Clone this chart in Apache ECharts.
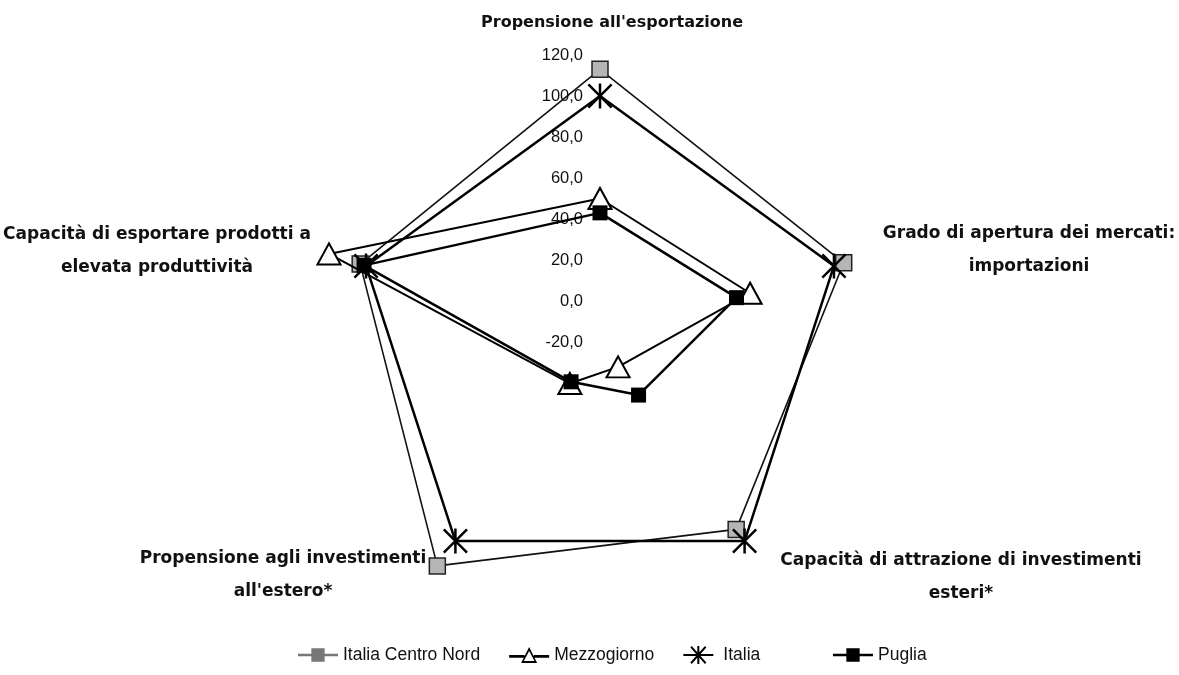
<!DOCTYPE html>
<html>
<head>
<meta charset="utf-8">
<script src="https://cdn.jsdelivr.net/npm/echarts@6/dist/echarts.min.js"></script>
<style>html,body{margin:0;padding:0;background:#fff;}#c{width:1179px;height:675px;}</style>
</head>
<body>
<div id="c"></div>
<script>
// Indicators in ECharts order (top, then counter-clockwise)
var indicatorNames = [
  "Propensione all'esportazione",
  "Capacità di esportare prodotti a\nelevata produttività",
  "Propensione agli investimenti\nall'estero*",
  "Capacità di attrazione di investimenti\nesteri*",
  "Grado di apertura dei mercati:\nimportazioni"
];
var seriesNames = ["Italia Centro Nord", "Mezzogiorno", "Italia", "Puglia"];
var centroNord = [113, 103, 115, 93, 105];
var mezzogiorno = [50, 119, 5, -5, 57];
var italia = [100, 100, 100, 100, 100];
var puglia = [43, 101, 4, 12, 50];
var axisMin = -20, axisMax = 120, axisStep = 20;
var tickValues = [-20, 0, 20, 40, 60, 80, 100, 120];

var CX = 600, CY = 342, R = 287;
var asterisk = 'path://M9,0H11V20H9Z M0,1.4L1.4,0L20,18.6L18.6,20Z M18.6,0L20,1.4L1.4,20L0,18.6Z';
var legIcons = [
  'path://M0,9H30V11H0Z M10,5H20V15H10Z',
  'path://M0,9H11.5V11H0Z M18.5,9H30V11H18.5Z M15,3L21,15L9,15Z M15,6L11,13.5L19,13.5Z',
  'path://M0,9H30V11H0Z M14,1H16V19H14Z M7,2.4L8.4,1L23,17.6L21.6,19Z M21.6,1L23,2.4L8.4,19L7,17.6Z',
  'path://M0,9H30V11H0Z M10,5H20V15H10Z'
];
var legColors = ['#777', '#000', '#000', '#000'];

var nameFont = {fontFamily: 'DejaVu Sans', fontSize: 17, fontWeight: 'bold', fill: '#111', lineHeight: 33, align: 'center', verticalAlign: 'middle'};
var namePos = [[612, 23], [157, 251], [283, 575], [961, 577], [1029, 250]];
var graphics = indicatorNames.map(function (n, i) {
  var st = Object.assign({text: n}, nameFont);
  if (i === 0) st.fontSize = 16;
  return {type: 'text', x: namePos[i][0], y: namePos[i][1], style: st};
});

var legendText = {fontFamily: 'Liberation Sans', fontSize: 17.5, color: '#111'};
function legendItem(i) {
  return {name: seriesNames[i], icon: legIcons[i], itemStyle: {color: legColors[i], borderWidth: 0}};
}

var chart = echarts.init(document.getElementById('c'));
chart.setOption({
  backgroundColor: '#fff',
  animation: false,
  graphic: graphics,
  radar: {
    center: [CX, CY],
    radius: R,
    startAngle: 90,
    shape: 'polygon',
    splitNumber: (axisMax - axisMin) / axisStep,
    indicator: indicatorNames.map(function (n) { return {name: n, min: axisMin, max: axisMax}; }),
    axisName: {show: false},
    axisLine: {show: false},
    splitLine: {show: false},
    splitArea: {show: false},
    axisTick: {show: false},
    axisLabel: {show: false}
  },
  polar: {center: [CX, CY], radius: R},
  angleAxis: {show: false, startAngle: 90, min: 0, max: 360},
  radiusAxis: {
    min: axisMin, max: axisMax, interval: axisStep,
    axisLine: {show: false}, axisTick: {show: false}, splitLine: {show: false},
    axisLabel: {
      show: true, color: '#111', fontSize: 16.5, fontFamily: 'Liberation Sans', margin: 17,
      formatter: function (v) { return tickValues.indexOf(v) >= 0 ? v.toFixed(1).replace('.', ',') : ''; }
    }
  },
  legend: [{
    left: 293, top: 641,
    itemWidth: 40, itemHeight: 18, itemGap: 29,
    textStyle: legendText,
    data: [legendItem(0), legendItem(1), legendItem(2)]
  }, {
    left: 828, top: 641,
    itemWidth: 40, itemHeight: 18,
    textStyle: legendText,
    data: [legendItem(3)]
  }],
  series: [
    {type: 'radar', name: seriesNames[0], z: 2,
     symbol: 'rect', symbolSize: 16,
     itemStyle: {color: '#b5b5b5', borderColor: '#222', borderWidth: 1.5},
     lineStyle: {color: '#111', width: 1.6},
     data: [{value: centroNord, name: seriesNames[0]}]},
    {type: 'radar', name: seriesNames[1], z: 3,
     symbol: 'triangle', symbolSize: [23, 21],
     itemStyle: {color: '#fff', borderColor: '#000', borderWidth: 2},
     lineStyle: {color: '#000', width: 2},
     data: [{value: mezzogiorno, name: seriesNames[1]}]},
    {type: 'radar', name: seriesNames[2], z: 4,
     symbol: asterisk, symbolSize: 25,
     itemStyle: {color: '#000', borderWidth: 0},
     lineStyle: {color: '#000', width: 2.5},
     data: [{value: italia, name: seriesNames[2]}]},
    {type: 'radar', name: seriesNames[3], z: 5,
     symbol: 'rect', symbolSize: 15,
     itemStyle: {color: '#000', borderWidth: 0},
     lineStyle: {color: '#000', width: 2.5},
     data: [{value: puglia, name: seriesNames[3]}]}
  ]
});
</script>
</body>
</html>
